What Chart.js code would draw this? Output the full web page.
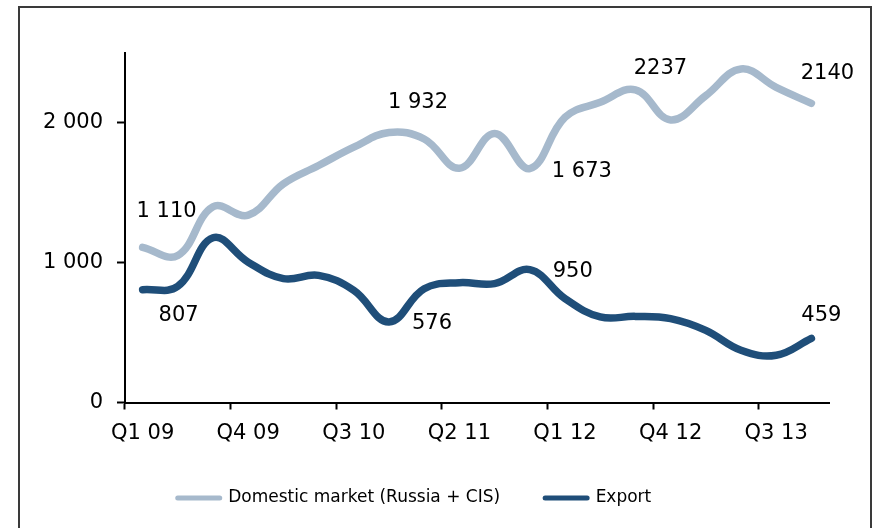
<!DOCTYPE html>
<html>
<head>
<meta charset="utf-8">
<script src="https://cdn.jsdelivr.net/npm/chart.js@4"></script>
<style>
  html, body { margin: 0; padding: 0; background: #ffffff; }
  #wrap { width: 875px; height: 528px; position: relative; }
</style>
</head>
<body>
<div id="wrap"><canvas id="c" width="875" height="528"></canvas></div>
<script>
// ---- data ----
const quarters = [
  'Q1 09','Q2 09','Q3 09','Q4 09',
  'Q1 10','Q2 10','Q3 10','Q4 10',
  'Q1 11','Q2 11','Q3 11','Q4 11',
  'Q1 12','Q2 12','Q3 12','Q4 12',
  'Q1 13','Q2 13','Q3 13','Q4 13'
];
const domesticName = 'Domestic market (Russia + CIS)';
const exportName = 'Export';
const domestic = [1110, 1052, 1400, 1340, 1564, 1695, 1826, 1932, 1885, 1675,
                  1925, 1673, 2040, 2147, 2237, 2021, 2195, 2386, 2254, 2140];
const exportVals = [807, 831, 1178, 1004, 886, 909, 802, 576, 814, 857,
                    850, 950, 743, 612, 616, 600, 516, 374, 338, 459];
const yTickValues = [0, 1000, 2000];
const labelEvery = 3;

// value labels: which series/point, whether to group thousands, and text offset
const valueLabels = [
  { series: 0, index: 0,  group: true,  dx: 24, dy: -36 },
  { series: 0, index: 7,  group: true,  dx: 29, dy: -30 },
  { series: 0, index: 11, group: true,  dx: 52, dy: 3 },
  { series: 0, index: 14, group: false, dx: 25, dy: -21 },
  { series: 0, index: 19, group: false, dx: 16, dy: -30 },
  { series: 1, index: 0,  group: true,  dx: 36, dy: 26 },
  { series: 1, index: 7,  group: true,  dx: 43, dy: 2 },
  { series: 1, index: 11, group: true,  dx: 43, dy: 2 },
  { series: 1, index: 19, group: true,  dx: 10, dy: -23 }
];

function spaced(v) {
  return String(v).replace(/\B(?=(\d{3})+(?!\d))/g, ' ');
}

Chart.defaults.font.family = "'DejaVu Sans', Verdana, sans-serif";
Chart.defaults.color = '#000000';

const framePlugin = {
  id: 'frame',
  beforeDraw(chart) {
    const ctx = chart.ctx;
    ctx.save();
    ctx.fillStyle = '#ffffff';
    ctx.fillRect(0, 0, chart.width, chart.height);
    ctx.strokeStyle = '#3a3a3a';
    ctx.lineWidth = 2;
    ctx.strokeRect(19, 7, 852, 600);
    ctx.restore();
  }
};

const valueLabelPlugin = {
  id: 'valueLabels',
  afterDatasetsDraw(chart) {
    const ctx = chart.ctx;
    ctx.save();
    ctx.font = "21px 'DejaVu Sans', Verdana, sans-serif";
    ctx.fillStyle = '#000000';
    ctx.textAlign = 'center';
    ctx.textBaseline = 'middle';
    valueLabels.forEach(l => {
      const pt = chart.getDatasetMeta(l.series).data[l.index];
      const v = chart.data.datasets[l.series].data[l.index];
      const txt = l.group ? spaced(v) : String(v);
      ctx.fillText(txt, pt.x + l.dx, pt.y + l.dy);
    });
    ctx.restore();
  }
};

new Chart(document.getElementById('c'), {
  type: 'line',
  data: {
    labels: quarters,
    datasets: [
      {
        label: domesticName,
        data: domestic,
        borderColor: '#a6b9cc',
        backgroundColor: '#a6b9cc',
        borderWidth: 7.5,
        pointRadius: 0,
        tension: 0.4,
        borderCapStyle: 'round',
        borderJoinStyle: 'round',
        fill: false
      },
      {
        label: exportName,
        data: exportVals,
        borderColor: '#1f4e79',
        backgroundColor: '#1f4e79',
        borderWidth: 7.5,
        pointRadius: 0,
        tension: 0.4,
        borderCapStyle: 'round',
        borderJoinStyle: 'round',
        fill: false
      }
    ]
  },
  options: {
    responsive: false,
    animation: false,
    devicePixelRatio: 1,
    layout: { padding: { left: 0, right: 46, top: 53, bottom: 11.5 } },
    plugins: {
      tooltip: { enabled: false },
      legend: {
        position: 'bottom',
        labels: {
          usePointStyle: true,
          pointStyleWidth: 42,
          boxHeight: 5,
          padding: 45,
          font: { size: 17 },
          color: '#000000',
          generateLabels(chart) {
            return chart.data.datasets.map((ds, i) => ({
              text: ds.label,
              fillStyle: ds.borderColor,
              strokeStyle: ds.borderColor,
              lineWidth: 5,
              lineCap: 'round',
              pointStyle: 'line',
              hidden: false,
              datasetIndex: i,
              fontColor: '#000000'
            }));
          }
        }
      }
    },
    scales: {
      x: {
        type: 'category',
        offset: true,
        grid: {
          offset: true,
          drawOnChartArea: false,
          drawTicks: true,
          tickLength: 7,
          tickWidth: 2,
          tickColor: ctx => (ctx.index !== undefined && ctx.index % labelEvery === 0) ? '#000000' : 'rgba(0,0,0,0)',
          color: 'rgba(0,0,0,0)'
        },
        border: { display: true, color: '#000000', width: 2 },
        ticks: {
          autoSkip: false,
          maxRotation: 0,
          minRotation: 0,
          padding: 11,
          font: { size: 21 },
          color: '#000000',
          callback(val, idx) { return idx % labelEvery === 0 ? quarters[idx] : ''; }
        },
        afterFit(scale) { scale.height = 42; }
      },
      y: {
        min: 0,
        max: 2500,
        grid: {
          drawOnChartArea: false,
          drawTicks: true,
          tickLength: 8,
          tickWidth: 2,
          tickColor: '#000000',
          color: 'rgba(0,0,0,0)'
        },
        border: { display: true, color: '#000000', width: 2 },
        ticks: {
          stepSize: 500,
          padding: 14,
          font: { size: 21 },
          color: '#000000',
          callback(v) { return spaced(v); }
        },
        afterBuildTicks(scale) {
          scale.ticks = yTickValues.map(v => ({ value: v }));
        },
        afterFit(scale) { scale.width = 125; }
      }
    }
  },
  plugins: [framePlugin, valueLabelPlugin]
});
</script>
</body>
</html>
